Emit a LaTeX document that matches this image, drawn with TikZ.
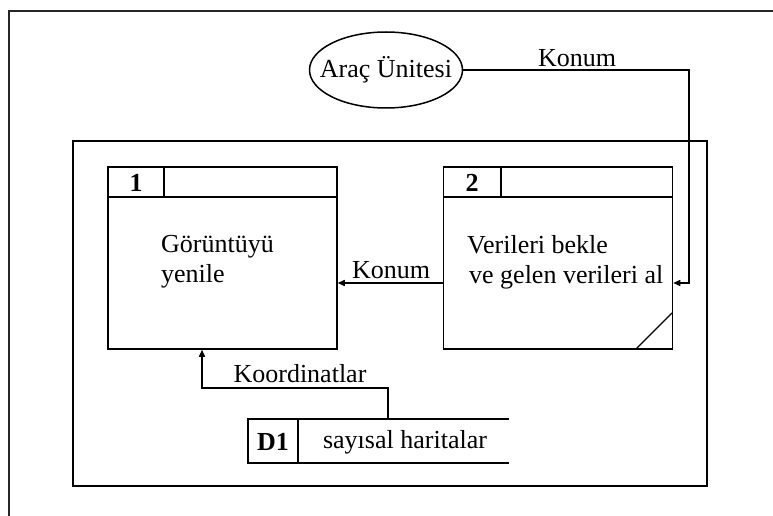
\documentclass[tikz,border=0pt]{standalone}
\usepackage{fontspec}
\setmainfont{Liberation Serif}
\usetikzlibrary{arrows.meta,shapes.geometric}
\begin{document}
\begin{tikzpicture}[x=1pt,y=-1pt,
  every node/.style={font=\fontsize{26}{30}\selectfont, inner sep=0pt},
  ln/.style={line width=1.5pt, black},
  arr/.style={ln, -{Triangle[length=7pt,width=6pt]}},
  procbox/.style={draw, ln, rectangle, minimum width=229pt, minimum height=182pt},
  numlbl/.style={font=\fontsize{26}{30}\selectfont\bfseries},
  flowlbl/.style={font=\fontsize{26}{30}\selectfont}
]
\useasboundingbox (0,0) rectangle (773,516);
% page frame
\draw[line width=2pt, black!85] (9,516) -- (9,11) -- (773,11);
% outer system boundary
\draw[ln] (73,141) rectangle (707,486);
% external entity
\node[draw, ln, ellipse, minimum width=153pt, minimum height=76pt] (e) at (386,70) {\makebox[0pt]{Araç Ünitesi}};
% process 1
\node[procbox] (b1) at (222.5,258) {};
\draw[ln] (108,197) -- (337,197);
\draw[ln] (164,167) -- (164,197);
\node[numlbl] (n1) at (136,183) {1};
\node[align=left, anchor=west, font=\fontsize{26}{30}\selectfont] (t1) at (161,262) {Görüntüyü\\yenile};
% process 2
\node[procbox] (b2) at (558,258) {};
\draw[ln] (444,197) -- (672,197);
\draw[ln] (501,167) -- (501,197);
\draw[line width=1.2pt] (636,349) -- (672,313);
\node[numlbl] (n2) at (472,183) {2};
\node[align=left, anchor=west, font=\fontsize{26}{30}\selectfont] (t2) at (467,262) {Verileri bekle\\\hspace*{2pt}ve gelen verileri al};
% data store
\node[minimum width=261pt, minimum height=44pt] (d1) at (378.5,441) {};
\draw[ln] (d1.north east) -- (d1.north west) -- (d1.south west) -- (d1.south east);
\draw[ln] (298,419) -- (298,463);
\node[numlbl] (dl) at (273,442) {D1};
\node (ds) at (405,442) {sayısal haritalar};
% flows
\coordinate (ky) at (0,283);
\coordinate (c1) at (689,71);
\draw[arr] (e.east) -- (e.east -| c1) -- (c1 |- ky) -- (b2.east |- ky);
\node[flowlbl] (k1) at (577,58) {Konum};
\draw[arr] (b2.west |- ky) -- (b1.east |- ky);
\node[flowlbl] (k2) at (391,270) {Konum};
\coordinate (kc) at (388,388);
\coordinate (kl) at (202,388);
\draw[arr] (d1.north -| kc) -- (kc) -- (kl) -- (b1.south -| kl);
\node[flowlbl] (k3) at (300,374) {Koordinatlar};
\end{tikzpicture}
\end{document}
